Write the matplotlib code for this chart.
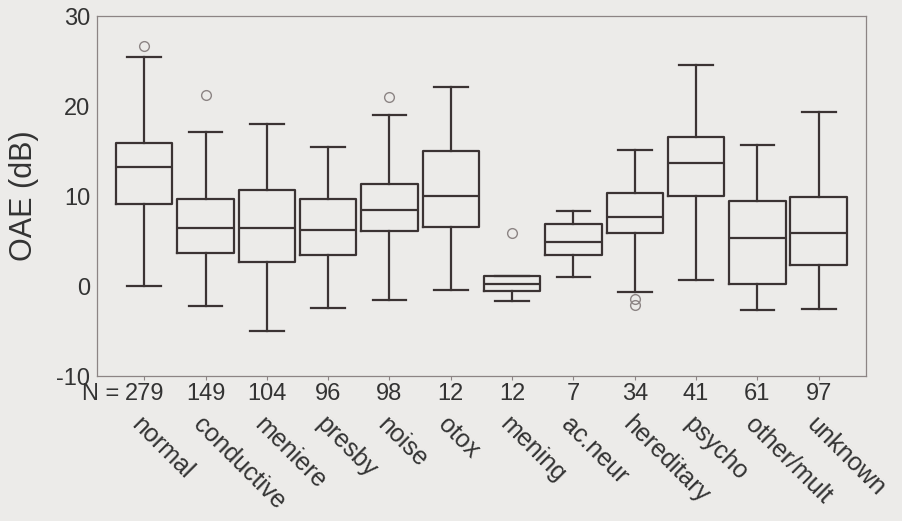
"""Boxplot of OAE (dB) by diagnosis group, redrawn from a scanned figure."""
import matplotlib
matplotlib.use("Agg")
import matplotlib.pyplot as plt
from matplotlib.transforms import offset_copy

plt.rcParams["font.family"] = ["Liberation Sans", "DejaVu Sans"]
plt.rcParams["axes.unicode_minus"] = False

# data
groups = ["normal", "conductive", "meniere", "presby", "noise", "otox",
          "mening", "ac.neur", "hereditary", "psycho", "other/mult", "unknown"]
counts = [279, 149, 104, 96, 98, 12, 12, 7, 34, 41, 61, 97]
whisk_lo = [0.0, -2.2, -5.0, -2.4, -1.6, -0.4, -1.7, 1.0, -0.7, 0.7, -2.7, -2.6]
q1 = [9.1, 3.7, 2.7, 3.4, 6.1, 6.6, -0.5, 3.4, 5.9, 10.0, 0.2, 2.3]
median = [13.2, 6.5, 6.4, 6.2, 8.5, 10.0, 0.2, 4.9, 7.7, 13.7, 5.3, 5.9]
q3 = [15.9, 9.7, 10.7, 9.7, 11.3, 15.0, 1.1, 6.9, 10.3, 16.6, 9.4, 9.9]
whisk_hi = [25.5, 17.1, 18.0, 15.5, 19.0, 22.1, 1.1, 8.3, 15.1, 24.6, 15.7, 19.3]
outliers = [[26.7], [21.2], [], [], [21.0], [], [5.9], [], [-1.4, -2.1], [], [], []]

BG = "#ecebe9"
INK = "#3b3333"
TXT = "#333333"

stats = []
for i, g in enumerate(groups):
    stats.append({
        "label": str(counts[i]),
        "whislo": whisk_lo[i], "q1": q1[i], "med": median[i],
        "q3": q3[i], "whishi": whisk_hi[i], "fliers": outliers[i],
    })

fig = plt.figure(figsize=(9.02, 5.21), dpi=100, facecolor=BG)
ax = fig.add_axes([0.1075, 0.2783, 0.8525, 0.6907], facecolor=BG)

line = dict(color=INK, linewidth=1.6)
ax.bxp(stats, positions=range(1, len(groups) + 1), widths=0.92, capwidths=0.55,
       boxprops=line, whiskerprops=line, capprops=line, medianprops=line,
       flierprops=dict(marker="o", markersize=7, markerfacecolor="none",
                       markeredgecolor="#8c8484", markeredgewidth=1.0))

ax.set_xlim(0.23, 12.77)
ax.set_ylim(-10, 30)
ax.set_yticks([-10, 0, 10, 20, 30])
ax.tick_params(axis="y", length=0, pad=5, labelsize=17, labelcolor=TXT)
ax.tick_params(axis="x", length=3, width=0.8, color="#8c8484", pad=2,
               labelsize=17, labelcolor=TXT)
for s in ax.spines.values():
    s.set_color("#8c8484")
    s.set_linewidth(0.9)

ax.set_ylabel("OAE (dB)", fontsize=22, color=TXT, labelpad=12)

# "N =" in front of the first count
ax.text(0.6, 0, "N =", transform=offset_copy(ax.get_xaxis_transform(), fig=fig,
        x=0, y=-5, units="points"),
        ha="right", va="top", fontsize=17, color=TXT)

# slanted group names under the counts
lab_tr = offset_copy(ax.get_xaxis_transform(), fig=fig, x=0, y=-26, units="points")
for i, g in enumerate(groups):
    ax.text(i + 1, 0, g, transform=lab_tr, rotation=-45, rotation_mode="anchor",
            ha="left", va="top", fontsize=18, color=TXT)

fig.savefig("out.png", dpi=100, facecolor=BG)
